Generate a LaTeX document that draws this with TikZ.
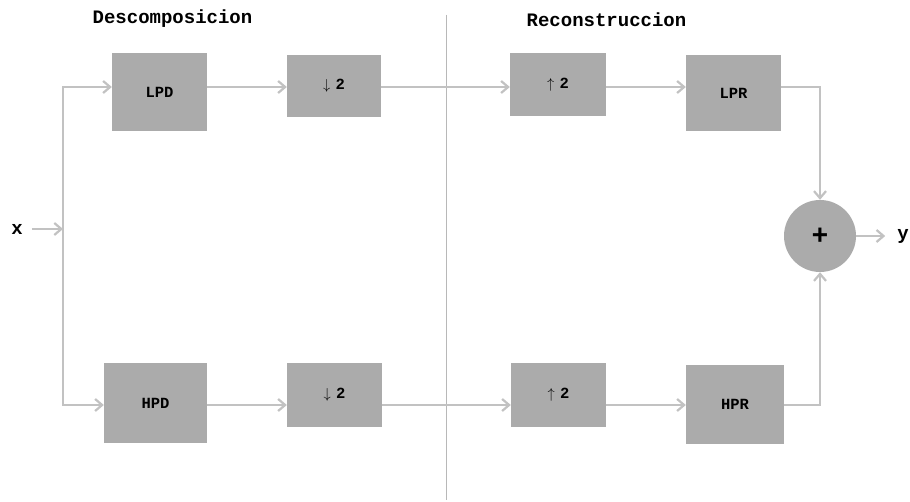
\documentclass[tikz,border=0pt]{standalone}
\usepackage{fontspec}
\setmonofont{Liberation Mono}
\usetikzlibrary{arrows.meta}
\definecolor{boxgray}{HTML}{ABABAB}
\definecolor{linegray}{HTML}{C2C2C2}
\definecolor{divgray}{HTML}{B8B8B8}
\tikzset{
  blk/.style={rectangle, fill=boxgray, inner sep=0pt, font=\ttfamily\bfseries\fontsize{15.5}{15.5}\selectfont},
  sumnode/.style={circle, fill=boxgray, inner sep=0pt, minimum size=72pt, font=\ttfamily\bfseries\fontsize{28}{28}\selectfont},
  title/.style={font=\ttfamily\bfseries\fontsize{19}{19}\selectfont},
  io/.style={font=\ttfamily\bfseries\fontsize{19}{19}\selectfont, inner sep=0pt},
  conn/.style={draw=linegray, line width=2.2pt, -{Straight Barb[length=7pt,width=12pt]}},
  plain/.style={draw=linegray, line width=2.2pt}
}
\begin{document}
\begin{tikzpicture}[x=1pt,y=-1pt]
\useasboundingbox[fill=white] (0,0) rectangle (910,502);
% divider
\draw[divgray, line width=1pt] (446,15) -- (446,500);
% titles
\node[title] (tdec) at (172.5,19) {Descomposicion};
\node[title] (trec) at (606.5,20) {Reconstruccion};
% row coordinates
\coordinate (r1) at (0,87);
\coordinate (r2) at (0,405);
\coordinate (split) at (63,229);
% blocks
\node[blk, minimum width=95pt, minimum height=78pt] (LPD) at (159.5,92) {LPD};
\node[blk, minimum width=94pt, minimum height=62pt] (D1) at (334,86) {$\downarrow$\,\,2};
\node[blk, minimum width=96pt, minimum height=63pt] (U1) at (558,84.5) {$\uparrow$\,\,2};
\node[blk, minimum width=95pt, minimum height=76pt] (LPR) at (733.5,93) {LPR};
\node[blk, minimum width=103pt, minimum height=80pt] (HPD) at (155.5,403) {HPD};
\node[blk, minimum width=95pt, minimum height=64pt] (D2) at (334.5,395) {$\downarrow$\,\,2};
\node[blk, minimum width=95pt, minimum height=64pt] (U2) at (558.5,395) {$\uparrow$\,\,2};
\node[blk, minimum width=98pt, minimum height=79pt] (HPR) at (735,404.5) {HPR};
\node[sumnode] (sum) at (820,236) {+};
\node[io] (xin) at (17,229) {x};
\node[io] (yout) at (903,236) {y};
% connectors
\draw[conn] (xin.east) ++(9,0) -- (split);
\draw[conn] (split) |- (LPD.west |- r1);
\draw[conn] (split) |- (HPD.west |- r2);
\draw[conn] (LPD.east |- r1) -- (D1.west |- r1);
\draw[conn] (D1.east |- r1) -- (U1.west |- r1);
\draw[conn] (U1.east |- r1) -- (LPR.west |- r1);
\draw[conn] (LPR.east |- r1) -| (sum.north);
\draw[conn] (HPD.east |- r2) -- (D2.west |- r2);
\draw[conn] (D2.east |- r2) -- (U2.west |- r2);
\draw[conn] (U2.east |- r2) -- (HPR.west |- r2);
\draw[conn] (HPR.east |- r2) -| (sum.south);
\draw[conn] (sum.east) -- ++(29,0);
\end{tikzpicture}
\end{document}
